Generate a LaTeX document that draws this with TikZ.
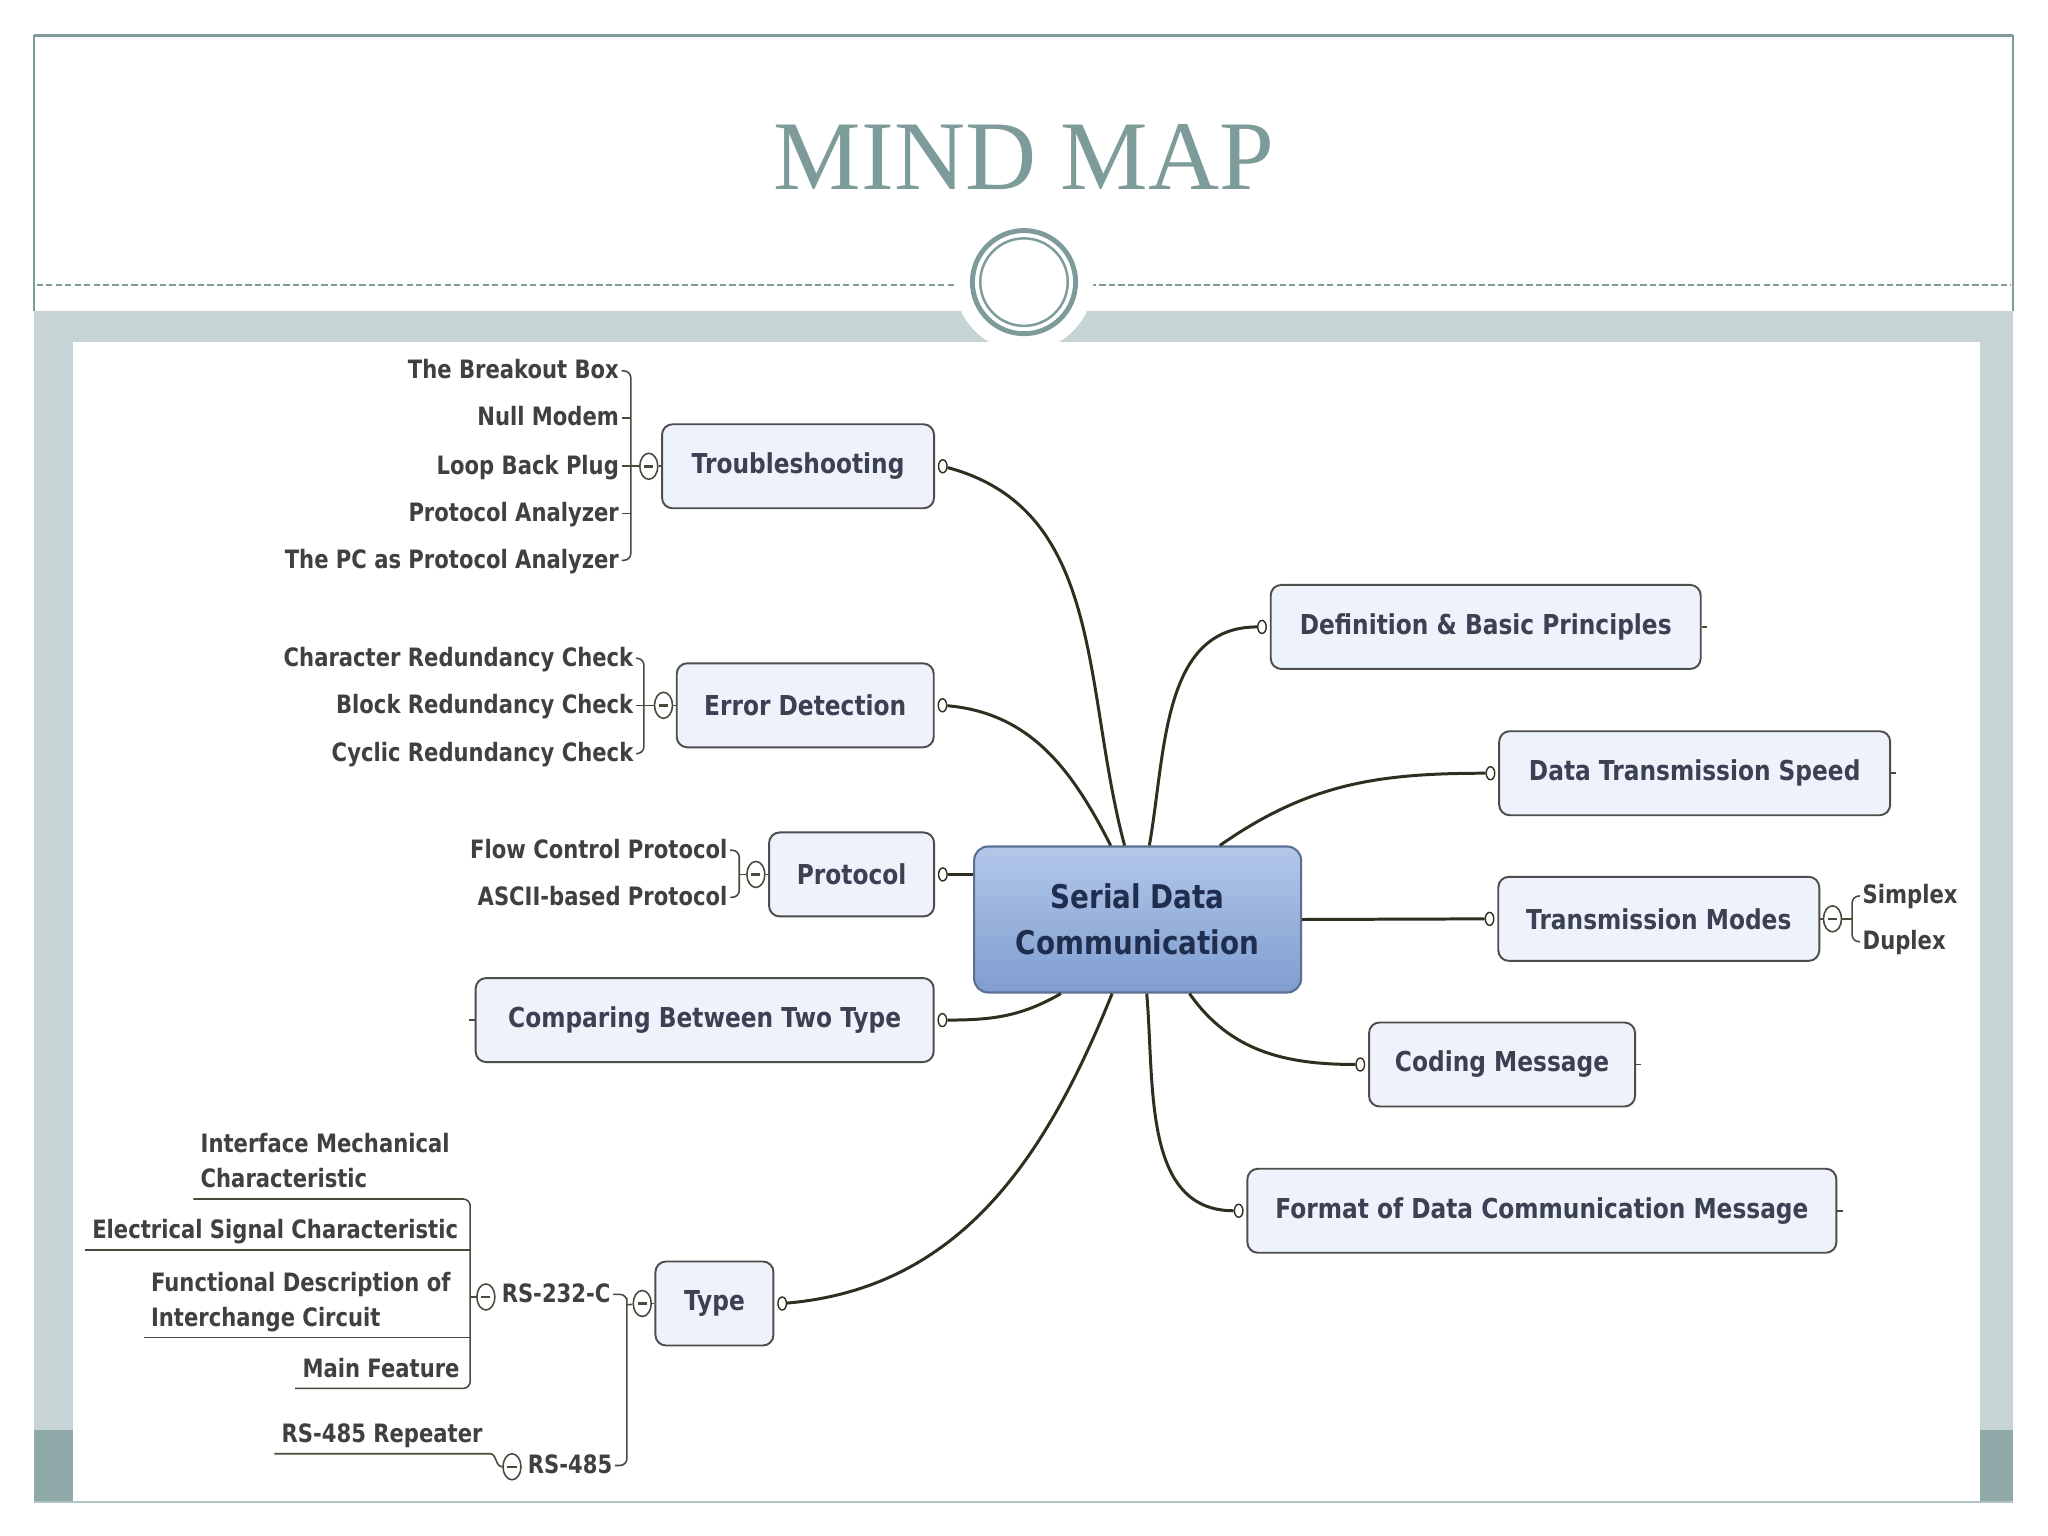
\documentclass[tikz,border=0pt]{standalone}
\usepackage{fontspec}
\usepackage{tikz}
\usetikzlibrary{shapes.geometric, positioning, calc}
\newfontfamily\mapfont{DejaVu Sans}[FakeStretch=0.85]
\newfontfamily\leaffont{DejaVu Sans}[FakeStretch=0.835]
\newfontfamily\titlefont{Liberation Serif}
\definecolor{slateTeal}{HTML}{7D9B99}
\definecolor{bandGray}{HTML}{C6D4D6}
\definecolor{bandDark}{HTML}{8FA8A8}
\definecolor{boxFill}{HTML}{EEF2FA}
\definecolor{boxLine}{HTML}{4D4D4D}
\definecolor{boxText}{HTML}{3B4152}
\definecolor{hubTop}{HTML}{B3C7E9}
\definecolor{hubBottom}{HTML}{7F9DD0}
\definecolor{hubLine}{HTML}{5B6F94}
\definecolor{hubText}{HTML}{1F2E4E}
\definecolor{branchCol}{HTML}{2F2F1F}
\definecolor{twigCol}{HTML}{4A4A3C}
\definecolor{leafText}{HTML}{404040}
\tikzset{
	topic/.style={rectangle, rounded corners=3pt, minimum height=0.84cm, inner sep=0pt, draw=boxLine, fill=boxFill, line width=0.55pt, text=boxText, font=\mapfont\bfseries\fontsize{7.8}{9}\selectfont},
	hub/.style={rectangle, rounded corners=4pt, minimum width=3.27cm, minimum height=1.46cm, align=center, draw=hubLine, top color=hubTop, bottom color=hubBottom, line width=0.6pt, text=hubText, font=\mapfont\bfseries\fontsize{9.3}{13.1}\selectfont},
	leaf/.style={inner sep=0.6pt, text height=5.8pt, text depth=1.4pt, text=leafText, font=\leaffont\bfseries\fontsize{7.2}{10}\selectfont},
	uline/.style={anchor=south west, align=left, inner xsep=1.9pt, inner ysep=0.8pt, text depth=2.2pt, text=leafText, font=\leaffont\bfseries\fontsize{7.2}{10}\selectfont},
	knob/.style={ellipse, minimum width=0.085cm, minimum height=0.13cm, inner sep=0pt, draw=branchCol, fill=white, line width=0.4pt},
	collapse/.style={ellipse, minimum width=0.18cm, minimum height=0.26cm, inner sep=0pt, draw=twigCol, fill=white, line width=0.45pt, path picture={\draw[line width=0.7pt, twigCol] ([xshift=-1.3pt]path picture bounding box.center) -- ([xshift=1.3pt]path picture bounding box.center);}},
	branch/.style={line width=0.85pt, draw=branchCol},
	twig/.style={line width=0.45pt, draw=twigCol}
}

\begin{document}
\begin{tikzpicture}[x=0.013061cm, y=0.013061cm]
		\useasboundingbox (0,0) rectangle (1568,-1176);
		% Slide
		\fill[white] (0,0) rectangle (1568,-1176);
		\fill[bandGray] (26,-238) rectangle (1541,-1150);
		\fill[bandDark] (26,-1095) rectangle (56,-1150);
		\fill[bandDark] (1516,-1095) rectangle (1541,-1150);
		\fill[white] (56,-262) rectangle (1516,-1150);
		\draw[slateTeal, line width=0.5pt] (26,-238) -- (26,-27);
		\draw[slateTeal, line width=0.5pt] (1541,-238) -- (1541,-27);
		\draw[slateTeal, line width=1pt] (26,-27) -- (1541,-27);
		\draw[slateTeal!60, line width=0.4pt] (26,-1150) -- (1541,-1150);
		\draw[slateTeal, line width=0.6pt, dash pattern=on 1.8pt off 0.9pt] (28,-218) -- (1540,-218);
		\fill[white] (784,-216) circle[radius=53];
		\draw[slateTeal, line width=1.4pt] (784,-216) circle[radius=39.5];
		\draw[slateTeal, line width=0.7pt] (784,-216) circle[radius=33.5];
		\node[anchor=base, text=slateTeal, font=\titlefont\fontsize{28}{30}\selectfont] (title) at (784,-145) {MIND MAP};
		
		% Central topic
		\node[hub] (sdc) at (871,-704) {Serial Data\\Communication};
		
		% Left topics
		\node[topic, minimum width=2.72cm] (ts) at (611,-357) {Troubleshooting};
		\node[topic, minimum width=2.57cm] (ed) at (616.5,-540) {Error Detection};
		\node[topic, minimum width=1.65cm] (pr) at (652,-669.5) {Protocol};
		\node[topic, minimum width=4.58cm] (cp) at (539.5,-781) {Comparing Between Two Type};
		\node[topic, minimum width=1.18cm] (ty) at (547,-998) {Type};
		
		% Right topics
		\node[topic, minimum width=4.30cm] (df) at (1137.5,-480) {Definition \& Basic Principles};
		\node[topic, minimum width=3.91cm] (dts) at (1297.5,-592) {Data Transmission Speed};
		\node[topic, minimum width=3.21cm] (tm) at (1270,-703.5) {Transmission Modes};
		\node[topic, minimum width=2.66cm] (cm) at (1150,-815) {Coding Message};
		\node[topic, minimum width=5.89cm] (fm) at (1180.5,-927) {Format of Data Communication Message};
		
		% Knobs
		\node[knob, right=0.8pt of ts] (tsk) {};
		\node[knob, right=0.8pt of ed] (edk) {};
		\node[knob, right=0.8pt of pr] (prk) {};
		\node[knob, right=0.8pt of cp] (cpk) {};
		\node[knob, right=0.8pt of ty] (tyk) {};
		\node[knob, left=0.8pt of df] (dfk) {};
		\node[knob, left=0.8pt of dts] (dtsk) {};
		\node[knob, left=0.8pt of tm] (tmk) {};
		\node[knob, left=0.8pt of cm] (cmk) {};
		\node[knob, left=0.8pt of fm] (fmk) {};
		
		% Branches
		\draw[branch] (tsk) to[out=-15, in=105] (sdc.100);
		\draw[branch] (edk) to[out=-5, in=117] (sdc.110);
		\draw[branch] (prk) -- (prk -| sdc.west);
		\draw[branch] (cpk) to[out=0, in=-150] (sdc.-136);
		\draw[branch] (tyk) to[out=5, in=-112] (sdc.-109);
		\draw[branch] (sdc.81) to[out=80, in=180] (dfk);
		\draw[branch] (sdc.42) to[out=35, in=180] (dtsk);
		\draw[branch] (sdc.east) -- (tmk);
		\draw[branch] (sdc.-55) to[out=-55, in=180] (cmk);
		\draw[branch] (sdc.-83) to[out=-85, in=180] (fmk);
		
		% Closed ends
		\draw[twig] (df.east) -- ++(4,0);
		\draw[twig] (dts.east) -- ++(4,0);
		\draw[twig] (cm.east) -- ++(4,0);
		\draw[twig] (fm.east) -- ++(4,0);
		\draw[twig] (cp.west) -- ++(-4,0);
		
		% Collapse buttons
		\node[collapse, left=0.7pt of ts] (tsm) {};
		\node[collapse, left=0.7pt of ed] (edm) {};
		\node[collapse, left=0.7pt of pr] (prm) {};
		\node[collapse, left=0.7pt of ty] (tym) {};
		\node[collapse, right=0.7pt of tm] (tmm) {};
		\draw[twig] (tsm) -- (ts);
		\draw[twig] (edm) -- (ed);
		\draw[twig] (prm) -- (pr);
		\draw[twig] (tym) -- (ty);
		\draw[twig] (tmm) -- (tm);
		
		% Troubleshooting
		\node[leaf, anchor=east] (ts1) at (476,-284) {The Breakout Box};
		\node[leaf, anchor=east] (ts2) at (476,-320) {Null Modem};
		\node[leaf, anchor=east] (ts3) at (476,-357) {Loop Back Plug};
		\node[leaf, anchor=east] (ts4) at (476,-393) {Protocol Analyzer};
		\node[leaf, anchor=east] (ts5) at (476,-429) {The PC as Protocol Analyzer};
		\coordinate (tsbar) at (483,-357);
		\draw[twig, rounded corners=2pt] (ts1.east) -| (tsbar) |- (ts5.east);
		\draw[twig] (ts2.east) -- (ts2.east -| tsbar);
		\draw[twig] (ts4.east) -- (ts4.east -| tsbar);
		\draw[twig] (ts3.east) -- (tsm);
		
		% Error Detection
		\node[leaf, anchor=east] (ed1) at (487,-504) {Character Redundancy Check};
		\node[leaf, anchor=east] (ed2) at (487,-540) {Block Redundancy Check};
		\node[leaf, anchor=east] (ed3) at (487,-577) {Cyclic Redundancy Check};
		\coordinate (edbar) at (493,-540);
		\draw[twig, rounded corners=2pt] (ed1.east) -| (edbar) |- (ed3.east);
		\draw[twig] (ed2.east) -- (edm);
		
		% Protocol
		\node[leaf, anchor=east] (pr1) at (559,-651) {Flow Control Protocol};
		\node[leaf, anchor=east] (pr2) at (559,-687) {ASCII-based Protocol};
		\coordinate (prbar) at (566,-669.5);
		\draw[twig, rounded corners=2pt] (pr1.east) -| (prbar) |- (pr2.east);
		\draw[twig] (prbar) -- (prm);
		
		% Transmission Modes
		\node[leaf, anchor=west] (tm1) at (1424,-686) {Simplex};
		\node[leaf, anchor=west] (tm2) at (1424,-721) {Duplex};
		\coordinate (tmbar) at (1418,-703.5);
		\draw[twig, rounded corners=2pt] (tm1.west) -| (tmbar) |- (tm2.west);
		\draw[twig] (tmm) -- (tmbar);
		
		% Type
		\node[leaf, anchor=west] (rsa) at (382,-991) {RS-232-C};
		\node[collapse] (rsam) at (372,-993) {};
		\node[leaf, anchor=west] (rsb) at (402,-1122) {RS-485};
		\node[collapse] (rsbm) at (392,-1123) {};
		\coordinate (tybar) at (480,-999);
		\draw[twig, rounded corners=2pt] (rsa.east) -| (tybar) |- (rsb.east);
		\draw[twig] (tybar) -- (tym);
		
		% RS-232-C
		\node[uline] (ic1) at (148,-918) {Interface Mechanical\\Characteristic};
		\node[uline] (ic2) at (65,-957) {Electrical Signal Characteristic};
		\node[uline] (ic3) at (110,-1024) {Functional Description of\\Interchange Circuit};
		\node[uline] (ic4) at (226,-1063) {Main Feature};
		\coordinate (rsbar) at (360,-993);
		\draw[twig, rounded corners=2pt] (ic1.south west) -| (rsbar) |- (ic4.south west);
		\draw[twig] (ic2.south west) -- (ic2.south west -| rsbar);
		\draw[twig] (ic3.south west) -- (ic3.south west -| rsbar);
		\draw[twig] (rsbar) -- (rsam);
		
		% RS-485
		\node[uline] (rep) at (210,-1113) {RS-485 Repeater};
		\draw[twig] (rep.south west) -- (rep.south east) to[out=0, in=180] (rsbm.west);
	\end{tikzpicture}
\end{document}
